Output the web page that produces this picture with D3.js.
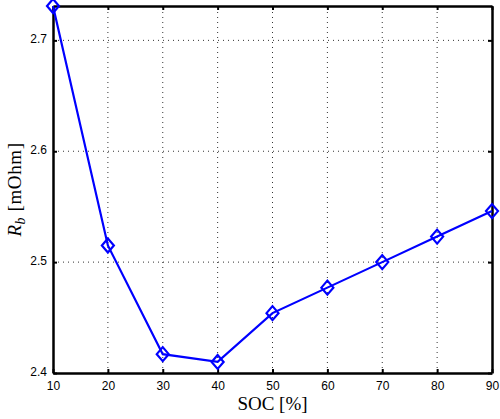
<!DOCTYPE html>
<html><head><meta charset="utf-8">
<script src="https://cdn.jsdelivr.net/npm/d3@7"></script>
<style>body{margin:0;background:#fff}svg{display:block}</style>
</head><body>
<script>
const soc = [10, 20, 30, 40, 50, 60, 70, 80, 90];
const rb = [2.731, 2.515, 2.417, 2.410, 2.454, 2.477, 2.500, 2.523, 2.546];
const xTicks = [10, 20, 30, 40, 50, 60, 70, 80, 90];
const yTicks = [2.4, 2.5, 2.6, 2.7];

const W = 500, H = 419;
const m = {left: 53, right: 8, top: 6, bottom: 46};
const svg = d3.select("body").append("svg").attr("width", W).attr("height", H);
const x = d3.scaleLinear().domain([10, 90]).range([m.left, W - m.right]);
const y = d3.scaleLinear().domain([2.4, 2.731]).range([H - m.bottom, m.top]);

// grid
const g = svg.append("g");
g.selectAll(".vg").data(xTicks.slice(1, -1)).join("line")
  .attr("x1", d => x(d)).attr("x2", d => x(d)).attr("y1", y.range()[0]).attr("y2", y.range()[1])
  .attr("stroke", "#333").attr("stroke-width", 1).attr("stroke-dasharray", "1,4");
g.selectAll(".hg").data(yTicks.slice(1)).join("line")
  .attr("y1", d => y(d)).attr("y2", d => y(d)).attr("x1", x.range()[0]).attr("x2", x.range()[1])
  .attr("stroke", "#333").attr("stroke-width", 1).attr("stroke-dasharray", "1,4");

// axes
const xb = svg.append("g").attr("transform", `translate(0,${y(2.4)})`)
  .call(d3.axisBottom(x).tickValues(xTicks).tickSizeInner(-4).tickSizeOuter(0).tickPadding(8));
const xt = svg.append("g").attr("transform", `translate(0,${y.range()[1]})`)
  .call(d3.axisTop(x).tickValues(xTicks).tickSizeInner(-4).tickSizeOuter(0).tickFormat(""));
const yl = svg.append("g").attr("transform", `translate(${x(10)},0)`)
  .call(d3.axisLeft(y).tickValues(yTicks).tickSizeInner(-4).tickSizeOuter(0).tickPadding(6).tickFormat(d3.format(".1f")));
const yr = svg.append("g").attr("transform", `translate(${x(90)},0)`)
  .call(d3.axisRight(y).tickValues(yTicks).tickSizeInner(-4).tickSizeOuter(0).tickFormat(""));
[xb, xt, yl, yr].forEach(a => {
  a.select(".domain").attr("stroke", "#000").attr("stroke-width", 2.5);
  a.selectAll(".tick line").attr("stroke", "#000").attr("stroke-width", 2);
  a.selectAll("text").attr("font-family", "Liberation Sans, Arial, sans-serif").attr("font-size", 12).attr("fill", "#000");
});
yl.selectAll("text").attr("dy", "0.2em");

// line
svg.append("path").datum(soc.map((s, i) => [s, rb[i]]))
  .attr("d", d3.line().x(d => x(d[0])).y(d => y(d[1])))
  .attr("fill", "none").attr("stroke", "#0000ff").attr("stroke-width", 2.2);
svg.selectAll(".mk").data(soc.map((s, i) => [s, rb[i]])).join("path")
  .attr("transform", d => `translate(${x(d[0])},${y(d[1])})`)
  .attr("d", "M0,-7L6,0L0,7L-6,0Z")
  .attr("fill", "none").attr("stroke", "#0000ff").attr("stroke-width", 2.2);

// labels
svg.append("text").attr("x", (x(10) + x(90)) / 2).attr("y", 410).attr("text-anchor", "middle")
  .attr("font-family", "Liberation Serif, Times New Roman, serif").attr("font-size", 19).text("SOC [%]");
const yt = svg.append("text").attr("transform", `translate(21,${(y.range()[0] + y.range()[1]) / 2}) rotate(-90)`)
  .attr("text-anchor", "middle").attr("font-family", "Liberation Serif, Times New Roman, serif").attr("font-size", 19)
  .attr("letter-spacing", 0.6);
yt.append("tspan").attr("font-style", "italic").text("R");
yt.append("tspan").attr("font-style", "italic").attr("font-size", 14).attr("dy", 4).text("b");
yt.append("tspan").attr("dy", -4).text(" [mOhm]");
</script>
</body></html>
